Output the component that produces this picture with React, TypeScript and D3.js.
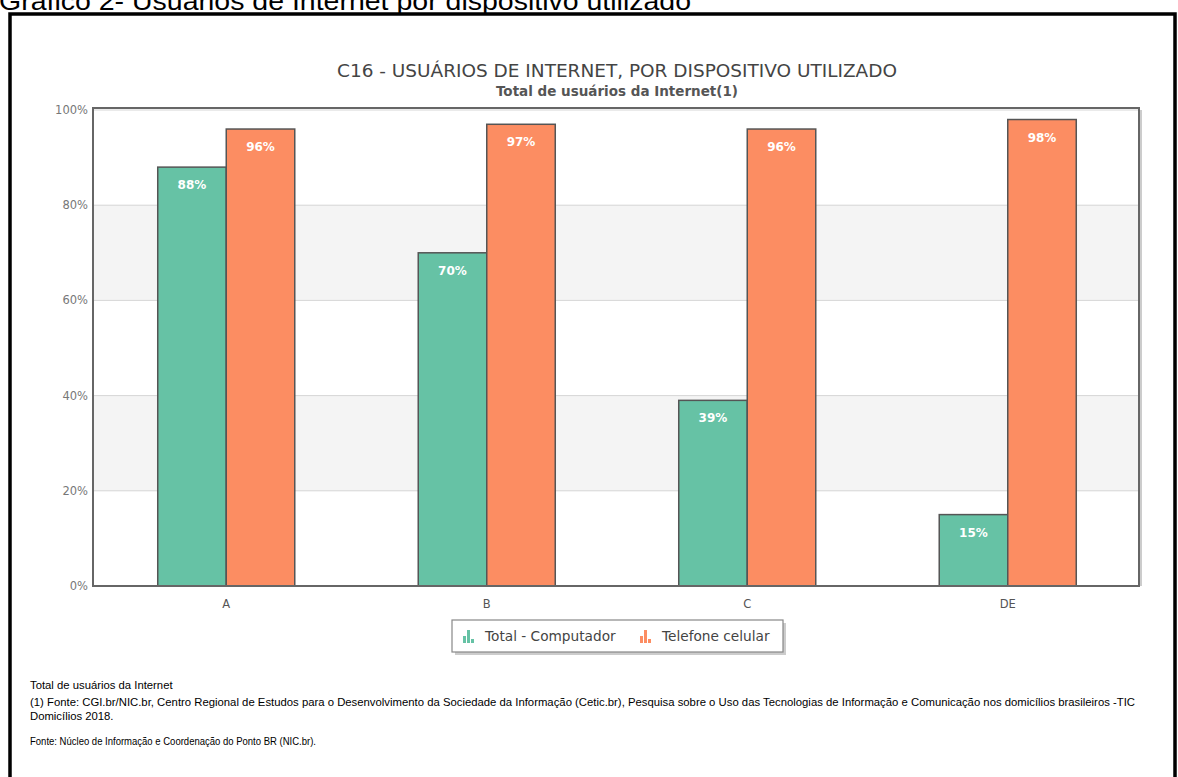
import * as d3 from 'd3';

const categories = ['A', 'B', 'C', 'DE'];
const seriesNames = ['Total - Computador', 'Telefone celular'];
const computador = [88, 70, 39, 15];
const celular = [96, 97, 96, 98];
const yTicks = [0, 20, 40, 60, 80, 100];
const seriesColors = ['#66c2a5', '#fc8d62'];

const pageTitle = 'Gráfico 2- Usuários de Internet por dispositivo utilizado';
const chartTitle = 'C16 - USUÁRIOS DE INTERNET, POR DISPOSITIVO UTILIZADO';
const chartSubtitle = 'Total de usuários da Internet(1)';
const notes = [
  'Total de usuários da Internet',
  '(1) Fonte: CGI.br/NIC.br, Centro Regional de Estudos para o Desenvolvimento da Sociedade da Informação (Cetic.br), Pesquisa sobre o Uso das Tecnologias de Informação e Comunicação nos domicílios brasileiros -TIC',
  'Domicílios 2018.',
  '',
  'Fonte: Núcleo de Informação e Coordenação do Ponto BR (NIC.br).',
];

const W = 1178;
const H = 777;
const plot = { left: 93, right: 1139, top: 108, bottom: 586 };
const chartFont = '"DejaVu Sans", Verdana, sans-serif';
const noteFont = '"Liberation Sans", Arial, sans-serif';

export default function App() {
  const values = [computador, celular];

  const x = d3
    .scaleBand<string>()
    .domain(categories)
    .range([96, 1138])
    .paddingInner(0.474)
    .paddingOuter(0.237);

  const xSub = d3.scaleBand<number>().domain([0, 1]).range([0, x.bandwidth()]);

  const y = d3.scaleLinear().domain([0, 100]).range([plot.bottom, 110]);

  const bands = [
    [60, 80],
    [20, 40],
  ];

  // widths of the scanned note lines, the scan squeezes some of them
  const noteWidth = (i: number) => (i === 1 ? 1105 : i === 4 ? 286 : undefined);
  const noteY = (i: number) => 689 + i * 14 + (i === 1 || i === 2 ? 3 : 0);

  return (
    <svg
      width={W}
      height={H}
      style={{ position: 'absolute', left: 0, top: 0, background: '#fff' }}
    >
      {/* page caption, cut by the top edge as in the scan */}
      <text
        x={-1}
        y={10}
        fontFamily={noteFont}
        fontSize={26}
        textLength={692}
        lengthAdjust="spacingAndGlyphs"
        fill="#000"
      >
        {pageTitle}
      </text>
      <path d={`M10,800 V14 H1175 V800`} fill="none" stroke="#000" strokeWidth={3.5} />

      <text
        x={617}
        y={77}
        textAnchor="middle"
        fontFamily={chartFont}
        fontSize={18}
        textLength={560}
        lengthAdjust="spacingAndGlyphs"
        fill="#444"
      >
        {chartTitle}
      </text>
      <text
        x={617}
        y={96}
        textAnchor="middle"
        fontFamily={chartFont}
        fontSize={13.5}
        fontWeight="bold"
        fill="#555"
      >
        {chartSubtitle}
      </text>

      {bands.map(([a, b]) => (
        <rect
          key={a}
          x={plot.left}
          width={plot.right - plot.left}
          y={y(b)}
          height={y(a) - y(b)}
          fill="#f4f4f4"
        />
      ))}
      {yTicks.map((t) => (
        <g key={t}>
          <line x1={plot.left} x2={plot.right} y1={y(t)} y2={y(t)} stroke="#d6d6d6" strokeWidth={1} />
          <text
            x={88}
            y={y(t) + 4}
            textAnchor="end"
            fontFamily={chartFont}
            fontSize={11.5}
            fill="#777"
          >
            {t}%
          </text>
        </g>
      ))}

      {categories.map((c, i) => (
        <g key={c} transform={`translate(${x(c)},0)`}>
          {values.map((vals, s) => (
            <g key={s}>
              <rect
                x={xSub(s)}
                y={y(vals[i])}
                width={xSub.bandwidth()}
                height={plot.bottom - y(vals[i])}
                fill={seriesColors[s]}
                stroke="#555"
                strokeWidth={1.5}
              />
              <text
                x={(xSub(s) as number) + xSub.bandwidth() / 2}
                y={y(vals[i]) + 22}
                textAnchor="middle"
                fontFamily={chartFont}
                fontSize={12}
                fontWeight="bold"
                fill="#fff"
              >
                {vals[i]}%
              </text>
            </g>
          ))}
          <text
            x={x.bandwidth() / 2}
            y={608}
            textAnchor="middle"
            fontFamily={chartFont}
            fontSize={11.5}
            fill="#555"
          >
            {c}
          </text>
        </g>
      ))}

      <rect
        x={plot.left}
        y={plot.top}
        width={plot.right - plot.left}
        height={plot.bottom - plot.top}
        fill="none"
        stroke="#666"
        strokeWidth={2}
      />
      <line x1={plot.right + 2} x2={plot.right + 2} y1={plot.top + 2} y2={plot.bottom} stroke="#ccc" strokeWidth={2} />

      <g>
        <rect x={455} y={623} width={331} height={32} fill="#ccc" />
        <rect x={452} y={620} width={331} height={32} fill="#fff" stroke="#888" strokeWidth={1.2} />
        {seriesNames.map((name, s) => {
          const ix = s === 0 ? 463 : 640;
          return (
            <g key={name}>
              <rect x={ix} y={636} width={3} height={7} fill={seriesColors[s]} />
              <rect x={ix + 4} y={630} width={3} height={13} fill={seriesColors[s]} />
              <rect x={ix + 8} y={639} width={3} height={4} fill={seriesColors[s]} />
              <text
                x={ix + 22}
                y={641}
                fontFamily={chartFont}
                fontSize={13.7}
                fill="#444"
              >
                {name}
              </text>
            </g>
          );
        })}
      </g>

      {notes.map((n, i) => (
        <text
          key={i}
          x={30}
          y={noteY(i)}
          fontFamily={noteFont}
          fontSize={11.3}
          textLength={noteWidth(i)}
          lengthAdjust="spacingAndGlyphs"
          fill="#000"
        >
          {n}
        </text>
      ))}
    </svg>
  );
}
